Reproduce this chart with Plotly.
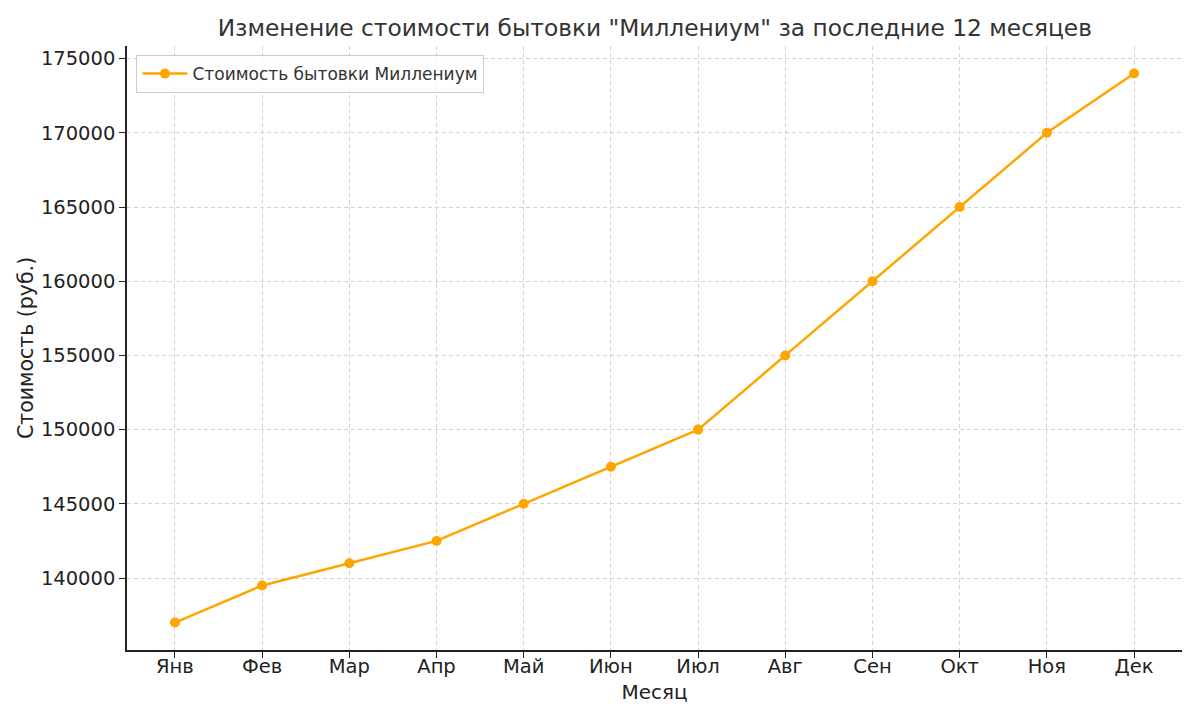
import plotly.graph_objects as go

months = ["Янв", "Фев", "Мар", "Апр", "Май", "Июн", "Июл", "Авг", "Сен", "Окт", "Ноя", "Дек"]
prices = [137000, 139500, 141000, 142500, 145000, 147500, 150000, 155000, 160000, 165000, 170000, 174000]
y_ticks = [140000, 145000, 150000, 155000, 160000, 165000, 170000, 175000]

span = max(prices) - min(prices)
y_range = [min(prices) - 0.05 * span, max(prices) + 0.05 * span]

fig = go.Figure()
fig.add_trace(go.Scatter(
    x=list(range(len(months))), y=prices, mode="lines+markers",
    name="Стоимость бытовки Миллениум",
    line=dict(color="#FFA500", width=2.5),
    marker=dict(color="#FFA500", size=10),
))

grid = dict(showgrid=True, gridcolor="#d3d3d3", griddash="4px,3px", gridwidth=1)
fig.update_layout(
    width=1200, height=720,
    font=dict(family="DejaVu Sans", color="#222222", size=18),
    paper_bgcolor="white", plot_bgcolor="white",
    margin=dict(l=119, r=26, t=38, b=78),
    title=dict(text='Изменение стоимости бытовки "Миллениум" за последние 12 месяцев',
               x=0.539, xanchor="center", y=0.972, yanchor="middle",
               font=dict(family="DejaVu Sans", size=23.3, color="#333333")),
    showlegend=True,
    legend=dict(x=0.009, y=0.985, xanchor="left", yanchor="top", itemwidth=45,
                bgcolor="rgba(255,255,255,0.8)", bordercolor="#cccccc", borderwidth=1,
                font=dict(family="DejaVu Sans", size=17, color="#333333")),
    xaxis=dict(range=[-0.55, 11.55], tickvals=list(range(len(months))), ticktext=months,
               tickfont=dict(family="DejaVu Sans", size=19.5, color="#222222"),
               ticklabelstandoff=-8,
               showline=True, linecolor="#222222", linewidth=1.5, ticks="outside",
               ticklen=6, tickcolor="#222222", zeroline=False,
               title=dict(text="Месяц", standoff=8,
                          font=dict(family="DejaVu Sans", size=20, color="#222222")), **grid),
    yaxis=dict(range=y_range, tickvals=y_ticks, tickformat="d",
               tickfont=dict(family="DejaVu Sans", size=19.5, color="#222222"),
               showline=True, linecolor="#222222", linewidth=1.5, ticks="outside",
               ticklen=6, tickcolor="#222222", zeroline=False,
               title=dict(text="Стоимость (руб.)", standoff=2,
                          font=dict(family="DejaVu Sans", size=20.5, color="#222222")), **grid),
)

fig.write_html("out.html")
